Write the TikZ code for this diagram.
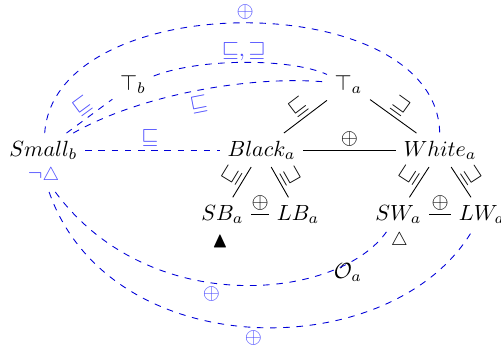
\documentclass[tikz,border=0pt]{standalone}
\usepackage{amssymb}
\begin{document}
\begin{tikzpicture}[x=0.455pt,y=-0.455pt,
  nd/.style={inner sep=3.3pt},
  lbl/.style={text=blue!70, inner sep=1.5pt},
  klbl/.style={text=black, inner sep=1.5pt},
  bd/.style={draw=blue!85!black, dashed},
  sl/.style={draw=black}]
\useasboundingbox (0,0) rectangle (501,356);
% main nodes
\node[nd, anchor=base] (Small) at (43.5,156) {$Small_b$};
\node[nd, anchor=base] (Black) at (261.5,156) {$Black_a$};
\node[nd, anchor=base] (White) at (440,156) {$White_a$};
\node[nd, anchor=base] (Ta) at (348.5,90) {$\top_a$};
\node[nd, anchor=base] (Tb) at (133,90) {$\top_b$};
\node[nd, anchor=base] (SB) at (222.5,220) {$SB_a$};
\node[nd, anchor=base] (LB) at (298,220) {$LB_a$};
\node[nd, anchor=base] (SW) at (398.5,220) {$SW_a$};
\node[nd, anchor=base] (LW) at (482,220) {$LW_a$};
\node[nd, text=blue!70] (neg) at (43.5,176) {$\neg\scalebox{0.85}{$\triangle$}$};
\node[nd] (bt) at (220,241.5) {$\blacktriangle$};
\node[nd] (wt) at (399.5,241) {\scalebox{0.85}{$\triangle$}};
\node[nd, anchor=base] (Oa) at (348,278) {$\mathcal{O}_a$};
% solid edges
\draw[sl] (Ta) -- node[klbl, sloped, above, pos=0.5] (l1) {$\sqsubseteq$} (Black);
\draw[sl] (Ta) -- node[klbl, sloped, above, pos=0.5] (l2) {$\sqsupseteq$} (White);
\draw[sl] (Black) -- node[klbl, above] (l3) {$\oplus$} (White);
\draw[sl] (Black) -- node[klbl, sloped, above] (l4) {$\sqsubseteq$} (SB);
\draw[sl] (Black) -- node[klbl, sloped, above] (l5) {$\sqsupseteq$} (LB);
\draw[sl] (SB) -- node[klbl, above] (l6) {$\oplus$} (LB);
\draw[sl] (White) -- node[klbl, sloped, above] (l7) {$\sqsubseteq$} (SW);
\draw[sl] (White) -- node[klbl, sloped, above] (l8) {$\sqsupseteq$} (LW);
\draw[sl] (SW) -- node[klbl, above] (l9) {$\oplus$} (LW);
% dashed blue edges
\draw[bd] (Small) -- node[lbl, above, pos=0.48] (m1) {$\sqsubseteq$} (Black);
\draw[bd] (Small) -- node[lbl, sloped, above] (m2) {$\sqsubseteq$} (Tb);
\draw[bd] (Tb) .. controls (200,58) and (290,58) .. node[lbl, above=-1pt] (m3) {$\sqsubseteq,\sqsupseteq$} (Ta);
\draw[bd] (Small) .. controls (140,95) and (250,75) .. node[lbl, sloped, below=1pt, pos=0.5] (m4) {$\sqsubseteq$} (Ta);
\draw[bd] (Small) .. controls (55,-14) and (437,-14) .. node[lbl, above=0pt] (m5) {$\oplus$} (White);
\draw[bd] (neg) .. controls (150,320) and (340,300) .. node[lbl, below, pos=0.43] (m6) {$\oplus$} (SW);
\draw[bd] (neg) .. controls (110,366) and (392,366) .. node[lbl, below, pos=0.5] (m7) {$\oplus$} (LW);
\end{tikzpicture}
\end{document}
